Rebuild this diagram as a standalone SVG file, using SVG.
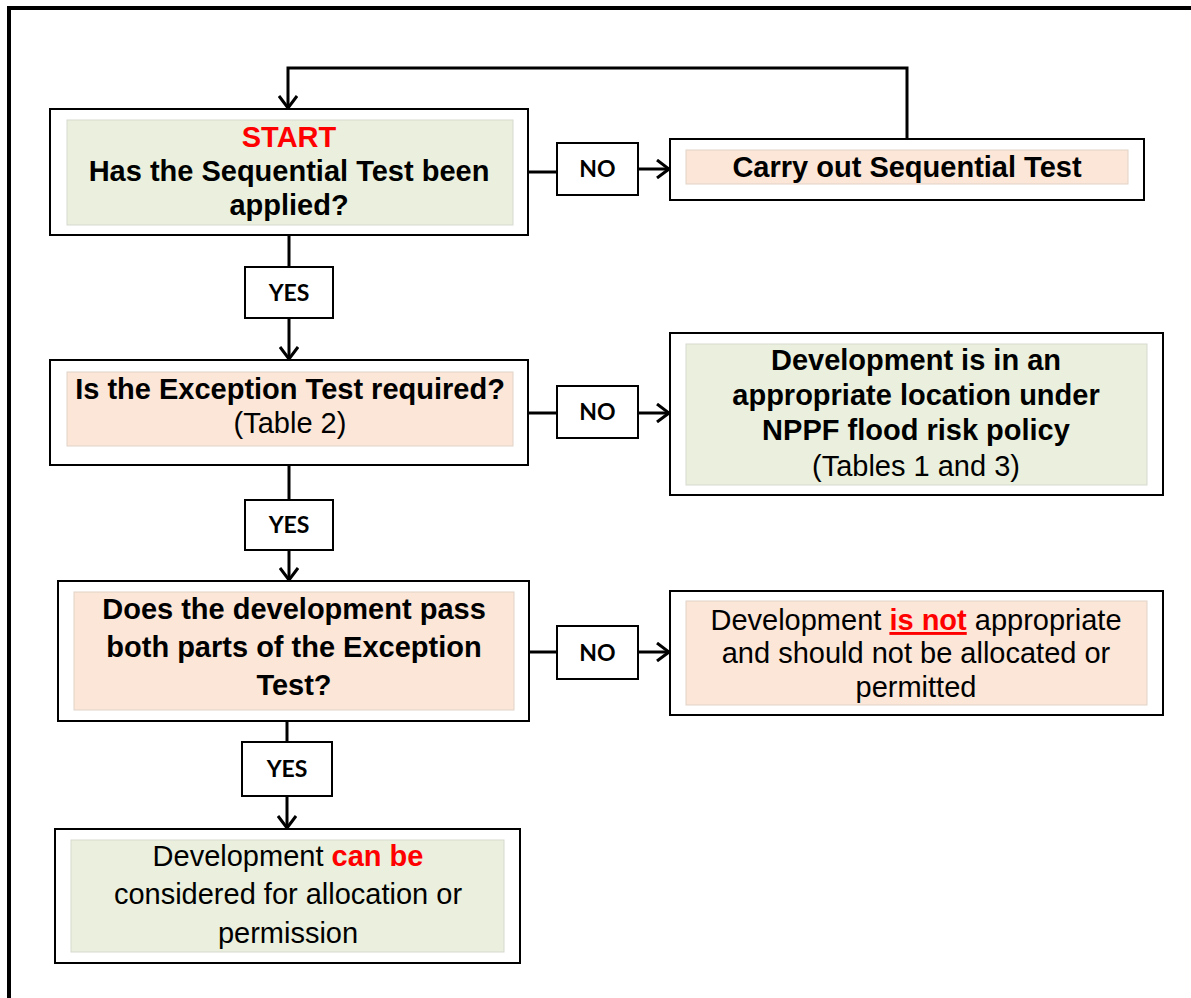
<svg xmlns="http://www.w3.org/2000/svg" width="1191" height="998" viewBox="0 0 1191 998">
<defs>
<style>
.box{fill:#fff;stroke:#000;stroke-width:2}
.green{fill:#EAF0DD;stroke:#D6D9CF;stroke-width:1}
.peach{fill:#FBE6D7;stroke:#E2D3C8;stroke-width:1}
.lbl{fill:#fff;stroke:#000;stroke-width:2}
.t{font-family:"Liberation Sans",Arial,sans-serif;font-size:29px;fill:#000;text-anchor:middle}
.b{font-weight:bold}
.red{fill:#FF0000;font-weight:bold}
.yn{font-family:Lato,"Open Sans",sans-serif;font-weight:bold;font-size:23px;fill:#000;text-anchor:middle}
.c{fill:none;stroke:#000;stroke-width:3}
</style>
<marker id="ah" viewBox="0 0 14 20" refX="13" refY="10" markerWidth="14" markerHeight="20" markerUnits="userSpaceOnUse" orient="auto">
<path d="M1,1 L13,10 L1,19" fill="none" stroke="#000" stroke-width="3"/>
</marker>
</defs>
<rect width="1191" height="998" fill="#fff"/>
<path d="M9,998 L9,8 L1191,8" fill="none" stroke="#000" stroke-width="4"/>

<g id="connectors">
<path class="c" d="M907,138 L907,68 L288,68 L288,108" marker-end="url(#ah)"/>
<path class="c" d="M289,235 L289,267"/>
<path class="c" d="M289,318 L289,359" marker-end="url(#ah)"/>
<path class="c" d="M289,465 L289,500"/>
<path class="c" d="M289,550 L289,580" marker-end="url(#ah)"/>
<path class="c" d="M287,721 L287,742"/>
<path class="c" d="M287,796 L287,828" marker-end="url(#ah)"/>
<path class="c" d="M528,172 L557,172"/>
<path class="c" d="M638,169 L669,169" marker-end="url(#ah)"/>
<path class="c" d="M529,413 L557,413"/>
<path class="c" d="M638,413 L669,413" marker-end="url(#ah)"/>
<path class="c" d="M529,652 L557,652"/>
<path class="c" d="M638,652 L669,652" marker-end="url(#ah)"/>
</g>

<g id="start">
<rect class="box" x="50" y="109" width="478" height="126"/>
<rect class="green" x="67" y="120" width="446" height="105"/>
<text class="t red" x="289" y="147">START</text>
<text class="t b" x="289" y="181">Has the Sequential Test been</text>
<text class="t b" x="289" y="215">applied?</text>
</g>

<g id="carry">
<rect class="box" x="670" y="139" width="474" height="61"/>
<rect class="peach" x="686" y="150" width="442" height="34"/>
<text class="t b" x="907" y="177">Carry out Sequential Test</text>
</g>

<g id="exception">
<rect class="box" x="50" y="360" width="478" height="105"/>
<rect class="peach" x="67" y="372" width="446" height="74"/>
<text class="t b" x="290" y="399">Is the Exception Test required?</text>
<text class="t" x="290" y="433">(Table 2)</text>
</g>

<g id="appropriate">
<rect class="box" x="670" y="333" width="493" height="162"/>
<rect class="green" x="686" y="344" width="461" height="141"/>
<text class="t b" x="916" y="370">Development is in an</text>
<text class="t b" x="916" y="405">appropriate location under</text>
<text class="t b" x="916" y="440">NPPF flood risk policy</text>
<text class="t" x="916" y="476">(Tables 1 and 3)</text>
</g>

<g id="pass">
<rect class="box" x="58" y="581" width="471" height="140"/>
<rect class="peach" x="74" y="592" width="440" height="118"/>
<text class="t b" x="294" y="619">Does the development pass</text>
<text class="t b" x="294" y="657">both parts of the Exception</text>
<text class="t b" x="294" y="695">Test?</text>
</g>

<g id="notappropriate">
<rect class="box" x="670" y="591" width="493" height="124"/>
<rect class="peach" x="686" y="601" width="461" height="104"/>
<text class="t" x="916" y="630">Development <tspan class="red" text-decoration="underline">is not</tspan> appropriate</text>
<text class="t" x="916" y="663">and should not be allocated or</text>
<text class="t" x="916" y="697">permitted</text>
</g>

<g id="canbe">
<rect class="box" x="55" y="829" width="465" height="134"/>
<rect class="green" x="71" y="840" width="433" height="112"/>
<text class="t" x="288" y="866">Development <tspan class="red">can be</tspan></text>
<text class="t" x="288" y="904">considered for allocation or</text>
<text class="t" x="288" y="943">permission</text>
</g>

<g id="yes1"><rect class="lbl" x="245" y="267" width="88" height="51"/><text class="yn" x="289" y="301">YES</text></g>
<g id="yes2"><rect class="lbl" x="245" y="500" width="88" height="50"/><text class="yn" x="289" y="533">YES</text></g>
<g id="yes3"><rect class="lbl" x="242" y="742" width="90" height="54"/><text class="yn" x="287" y="777">YES</text></g>
<g id="no1"><rect class="lbl" x="557" y="143" width="81" height="52"/><text class="yn" x="597.5" y="177">NO</text></g>
<g id="no2"><rect class="lbl" x="557" y="386" width="81" height="52"/><text class="yn" x="597.5" y="420">NO</text></g>
<g id="no3"><rect class="lbl" x="557" y="626" width="81" height="53"/><text class="yn" x="597.5" y="661">NO</text></g>
</svg>
